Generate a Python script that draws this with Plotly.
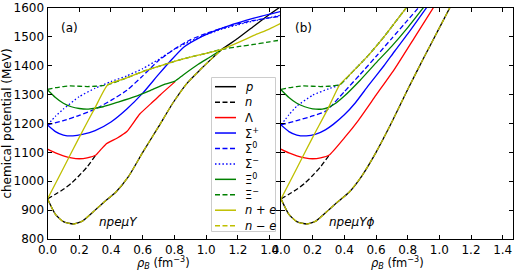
import plotly.graph_objects as go

# ---------------- data ----------------
# panel (a): npe mu Y
a_p_rho = [0, 0.05, 0.1, 0.163, 0.22, 0.3, 0.35, 0.43, 0.51, 0.6, 0.7, 0.79, 0.88, 0.96, 1.03, 1.10, 1.2, 1.3, 1.4, 1.47]
a_p_mu = [939, 885, 860, 852, 862, 900, 925, 962, 1016, 1100, 1189, 1271, 1340, 1385, 1422, 1457, 1495, 1537, 1578, 1605]
a_n_rho = [0, 0.05, 0.1, 0.15, 0.2, 0.25, 0.305]
a_n_mu = [939, 955, 972, 993, 1020, 1050, 1091]
a_lam_rho = [0, 0.05, 0.1, 0.15, 0.2, 0.25, 0.305, 0.34, 0.373, 0.44, 0.5, 0.58, 0.65, 0.71, 0.804]
a_lam_mu = [1111, 1098, 1088, 1081, 1078, 1081, 1091, 1112, 1131, 1150, 1172, 1232, 1268, 1299, 1345]
a_sp_rho = [0, 0.05, 0.1, 0.16, 0.22, 0.3, 0.4, 0.5, 0.6, 0.7, 0.78, 0.86, 0.95, 1.05, 1.15, 1.25, 1.35, 1.47]
a_sp_mu = [1195, 1172, 1160, 1157, 1162, 1175, 1205, 1250, 1305, 1370, 1420, 1465, 1495, 1520, 1540, 1557, 1572, 1588]
a_s0_rho = [0, 0.1, 0.2, 0.3, 0.4, 0.5, 0.6, 0.7, 0.8, 0.9, 1.0, 1.1, 1.2, 1.3, 1.47]
a_s0_mu = [1195, 1210, 1228, 1250, 1280, 1315, 1365, 1418, 1458, 1490, 1512, 1530, 1545, 1557, 1572]
a_sm_rho = [0, 0.05, 0.1, 0.2, 0.3, 0.4, 0.5, 0.6, 0.7, 0.8, 0.9, 1.0, 1.1, 1.2, 1.3, 1.47]
a_sm_mu = [1195, 1225, 1250, 1293, 1322, 1345, 1365, 1390, 1422, 1457, 1485, 1508, 1527, 1542, 1555, 1575]
a_x0_rho = [0, 0.05, 0.1, 0.15, 0.2, 0.257, 0.35, 0.45, 0.55, 0.65, 0.74, 0.804, 0.855, 0.95, 1.03, 1.10]
a_x0_mu = [1317, 1290, 1270, 1258, 1252, 1250, 1258, 1275, 1293, 1315, 1336, 1347, 1368, 1405, 1432, 1457]
a_xm_rho = [0, 0.05, 0.1, 0.142, 0.2, 0.25, 0.3, 0.38, 0.5, 0.6, 0.7, 0.8, 0.9, 1.0, 1.1, 1.2, 1.3, 1.4, 1.47]
a_xm_mu = [1318, 1324, 1328, 1330, 1329, 1328, 1329, 1334, 1358, 1380, 1398, 1415, 1430, 1443, 1457, 1466, 1474, 1483, 1489]
a_npe_rho = [0, 0.1, 0.2, 0.3, 0.38, 0.5, 0.6, 0.7, 0.8, 0.9, 1.0, 1.1, 1.2, 1.3, 1.4, 1.47]
a_npe_mu = [939, 1045, 1152, 1255, 1334, 1358, 1380, 1398, 1415, 1430, 1443, 1457, 1480, 1505, 1528, 1547]
a_nme_rho = [0, 0.05, 0.1, 0.163, 0.22, 0.3, 0.35, 0.43, 0.51, 0.6, 0.7, 0.79, 0.88, 0.96, 1.03, 1.10]
a_nme_mu = [939, 885, 860, 852, 862, 900, 925, 962, 1016, 1100, 1189, 1271, 1340, 1385, 1422, 1457]

# panel (b): npe mu Y phi
b_p_rho = [0, 0.05, 0.1, 0.163, 0.22, 0.3, 0.35, 0.43, 0.51, 0.6, 0.7, 0.8, 0.9, 1.0, 1.07]
b_p_mu = [939, 885, 860, 852, 862, 900, 925, 962, 1018, 1100, 1205, 1318, 1426, 1531, 1605]
b_n_rho = [0, 0.05, 0.1, 0.15, 0.2, 0.25, 0.305]
b_n_mu = [939, 955, 972, 993, 1020, 1050, 1091]
b_lam_rho = [0, 0.05, 0.1, 0.15, 0.2, 0.25, 0.305, 0.4, 0.49, 0.6, 0.72, 0.84, 0.97]
b_lam_mu = [1111, 1098, 1088, 1081, 1078, 1081, 1091, 1150, 1212, 1298, 1391, 1495, 1608]
b_sp_rho = [0, 0.05, 0.1, 0.16, 0.22, 0.28, 0.33, 0.4, 0.47, 0.55, 0.65, 0.72, 0.8, 0.92]
b_sp_mu = [1195, 1172, 1160, 1157, 1163, 1178, 1197, 1230, 1272, 1330, 1400, 1452, 1510, 1602]
b_s0_rho = [0, 0.1, 0.2, 0.28, 0.31, 0.4, 0.5, 0.6, 0.7, 0.8, 0.87]
b_s0_mu = [1195, 1210, 1226, 1242, 1256, 1310, 1370, 1432, 1495, 1558, 1602]
b_sm_rho = [0, 0.05, 0.1, 0.2, 0.3, 0.37, 0.45, 0.55, 0.65, 0.72, 0.79]
b_sm_mu = [1195, 1230, 1260, 1298, 1320, 1334, 1378, 1435, 1500, 1550, 1600]
b_x0_rho = [0, 0.05, 0.1, 0.15, 0.2, 0.26, 0.3, 0.35, 0.4, 0.5, 0.6, 0.7, 0.8, 0.9]
b_x0_mu = [1317, 1290, 1270, 1258, 1251, 1250, 1256, 1272, 1295, 1350, 1410, 1468, 1532, 1602]
b_xm_rho = [0, 0.05, 0.1, 0.142, 0.2, 0.25, 0.3, 0.37, 0.45, 0.55, 0.65, 0.72, 0.79]
b_xm_mu = [1318, 1324, 1328, 1330, 1329, 1328, 1329, 1334, 1378, 1435, 1500, 1550, 1600]
b_npe_rho = [0, 0.1, 0.2, 0.3, 0.37, 0.45, 0.55, 0.65, 0.72, 0.79]
b_npe_mu = [939, 1045, 1152, 1255, 1334, 1378, 1435, 1500, 1550, 1600]
b_nme_rho = [0, 0.05, 0.1, 0.163, 0.22, 0.3, 0.35, 0.43, 0.51, 0.6, 0.7, 0.8, 0.9, 1.0, 1.07]
b_nme_mu = [939, 885, 860, 852, 862, 900, 925, 962, 1018, 1100, 1205, 1318, 1426, 1531, 1605]

series_labels = ["<i>p</i>", "<i>n</i>", "Λ", "Σ<sup>+</sup>", "Σ<sup>0</sup>", "Σ<sup>−</sup>",
                 "Ξ<sup>0</sup>", "Ξ<sup>−</sup>", "<i>n</i> + <i>e</i>", "<i>n</i> − <i>e</i>"]
panel_labels = ["(a)", "(b)"]
model_labels = ["<i>npeμY</i>", "<i>npeμYϕ</i>"]
x_title = "<i>ρ</i><sub><i>B</i></sub> (fm<sup>−3</sup>)"
y_title = "chemical potential (MeV)"
x_ticks = [0.0, 0.2, 0.4, 0.6, 0.8, 1.0, 1.2, 1.4]
y_ticks = [800, 900, 1000, 1100, 1200, 1300, 1400, 1500, 1600]

# ---------------- styles ----------------
K, R, B, G, Y = "#000000", "#ff0000", "#0000ff", "#008000", "#bfbf00"
DASH = "5px,2.5px"
DOT = "1.5px,2.2px"
styles = [(K, "solid"), (K, DASH), (R, "solid"), (B, "solid"), (B, DASH), (B, DOT),
          (G, "solid"), (G, DASH), (Y, "solid"), (Y, DASH)]
LW = 1.3
FONT = "DejaVu Sans"

panel_a = [(a_p_rho, a_p_mu), (a_n_rho, a_n_mu), (a_lam_rho, a_lam_mu), (a_sp_rho, a_sp_mu),
           (a_s0_rho, a_s0_mu), (a_sm_rho, a_sm_mu), (a_x0_rho, a_x0_mu), (a_xm_rho, a_xm_mu),
           (a_npe_rho, a_npe_mu), (a_nme_rho, a_nme_mu)]
panel_b = [(b_p_rho, b_p_mu), (b_n_rho, b_n_mu), (b_lam_rho, b_lam_mu), (b_sp_rho, b_sp_mu),
           (b_s0_rho, b_s0_mu), (b_sm_rho, b_sm_mu), (b_x0_rho, b_x0_mu), (b_xm_rho, b_xm_mu),
           (b_npe_rho, b_npe_mu), (b_nme_rho, b_nme_mu)]

fig = go.Figure()
for (xa, ya), panel in (("x", "y"), panel_a), (("x2", "y2"), panel_b):
    for (rho, mu), (col, dash), name in zip(panel, styles, series_labels):
        fig.add_trace(go.Scatter(x=rho, y=mu, mode="lines", xaxis=xa, yaxis=ya,
                                 line=dict(color=col, dash=dash, width=LW, shape="spline", smoothing=0.5),
                                 name=name, showlegend=False, hoverinfo="skip"))

W, H = 518, 273
def px(x):
    return x / W
def py(y):
    return 1 - y / H

axis_common = dict(showline=True, linecolor="black", linewidth=1, mirror="ticks",
                   ticks="inside", ticklen=4, tickcolor="black", tickwidth=1,
                   showgrid=False, zeroline=False,
                   tickfont=dict(family=FONT, size=12, color="black"))
xdomA = [px(47.5), px(280)]
xdomB = [px(281), px(513)]
ydom = [py(239), py(8)]

fig.update_layout(
    width=W, height=H,
    margin=dict(l=0, r=0, t=0, b=0, autoexpand=False),
    paper_bgcolor="white", plot_bgcolor="white",
    xaxis=dict(domain=xdomA, range=[0, 1.465], tickvals=x_ticks, ticktext=[f"{v:.1f}" for v in x_ticks],
               anchor="y", **axis_common),
    xaxis2=dict(domain=xdomB, range=[0, 1.465], tickvals=x_ticks, ticktext=[f"{v:.1f}" for v in x_ticks],
                anchor="y2", **axis_common),
    yaxis=dict(domain=ydom, range=[800, 1600], tickvals=y_ticks, anchor="x",
               title=dict(text=y_title, font=dict(family=FONT, size=12, color="black"), standoff=4),
               **axis_common),
    yaxis2=dict(domain=ydom, range=[800, 1600], tickvals=y_ticks, anchor="x2", showticklabels=False,
                **axis_common),
    showlegend=False,
)

# x-axis titles (placed like matplotlib's xlabel under each panel)
for dom in (xdomA, xdomB):
    fig.add_annotation(x=(dom[0] + dom[1]) / 2, y=py(272), xref="paper", yref="paper", text=x_title,
                       showarrow=False, xanchor="center", yanchor="bottom", borderpad=0,
                       font=dict(family=FONT, size=11.5, color="black"))

# panel labels and model labels
for i, (xr, yr) in enumerate((("x", "y"), ("x2", "y2"))):
    fig.add_annotation(x=0.14, y=1532, xref=xr, yref=yr, text=panel_labels[i], showarrow=False,
                       font=dict(family=FONT, size=12, color="black"))
    fig.add_annotation(x=0.45, y=860, xref=xr, yref=yr, text=model_labels[i], showarrow=False,
                       font=dict(family=FONT, size=12, color="black"))

# manual legend (matplotlib-like box inside panel a)
fig.add_shape(type="rect", xref="paper", yref="paper", x0=px(211.5), x1=px(275.5), y0=py(231.5), y1=py(77.5),
              line=dict(color="#cccccc", width=1), fillcolor="rgba(255,255,255,0.85)", layer="above")
for i, ((col, dash), name) in enumerate(zip(styles, series_labels)):
    yc = 86.7 + i * 15.44
    fig.add_shape(type="line", xref="paper", yref="paper", x0=px(215), x1=px(236), y0=py(yc), y1=py(yc),
                  line=dict(color=col, dash=dash, width=1.5), layer="above")
    fig.add_annotation(x=px(243), y=py(yc), xref="paper", yref="paper", text=name, showarrow=False,
                       xanchor="left", yanchor="middle", font=dict(family=FONT, size=11.5, color="black"))

fig.write_html("out.html", config={"displayModeBar": False},
               post_script="document.body.style.margin='0';document.body.style.overflow='hidden';")
